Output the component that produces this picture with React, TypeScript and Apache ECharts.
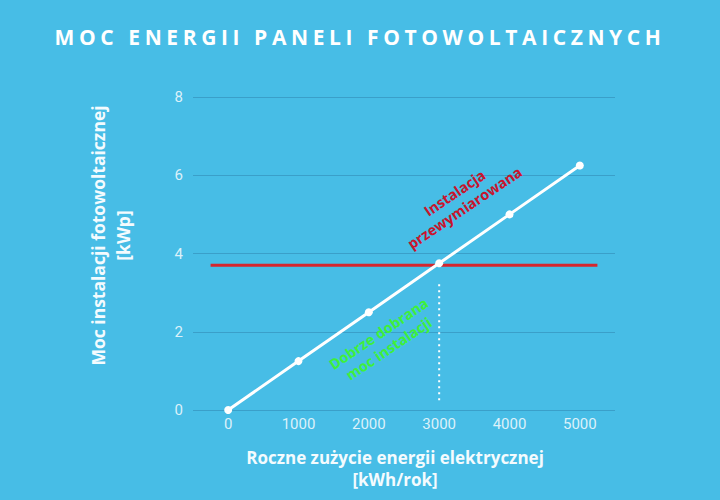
import React, { useEffect, useRef } from "react";
import * as echarts from "echarts";

const TITLE = "MOC ENERGII PANELI FOTOWOLTAICZNYCH";

// annual consumption [kWh/rok] vs installed power [kWp]
const consumption = [0, 1000, 2000, 3000, 4000, 5000];
const power = [0, 1.25, 2.5, 3.75, 5, 6.25];
const xTickValues = [0, 1000, 2000, 3000, 4000, 5000];

// red "oversized" threshold and the dotted marker at 3000 kWh
const limitValue = 3.7;
const limitRange = [-250, 5250];
const markerX = 3000;
const markerRange = [0.25, 3.25];

// annotation anchors in data coordinates
const redNote = { x: 3290, y: 5.36, text: "Instalacja\nprzewymiarowana" };
const greenNote = { x: 2210, y: 1.76, text: "Dobrze dobrana\nmoc instalacji" };

export default function App() {
  const chartRef = useRef<HTMLDivElement>(null);

  useEffect(() => {
    if (!chartRef.current) return;
    const chart = echarts.init(chartRef.current, null, { renderer: "svg" });

    chart.setOption({
      animation: false,
      backgroundColor: "#47bde6",
      title: {
        text: TITLE,
        left: "center",
        top: 21,
        textStyle: { color: "#ffffff", fontSize: 21, fontWeight: "bold", fontFamily: "Open Sans" }
      },
      grid: { left: 193, right: 105, top: 97, bottom: 90, outerBoundsMode: "none" },
      xAxis: {
        type: "value",
        min: -500,
        max: 5500,
        name: "Roczne zużycie energii elektrycznej\n[kWh/rok]",
        nameLocation: "middle",
        nameGap: 36,
        nameTextStyle: {
          color: "#f4fbfe",
          fontSize: 17,
          fontWeight: "bold",
          fontFamily: "Open Sans",
          lineHeight: 22,
          padding: [0, 18, 0, 0]
        },
        axisLine: { show: false },
        axisTick: { show: false },
        splitLine: { show: false },
        axisLabel: {
          customValues: xTickValues,
          formatter: (v: number) => String(v),
          color: "#dcf1fa",
          fontSize: 15,
          fontFamily: "Roboto",
          margin: 6
        }
      },
      yAxis: {
        type: "value",
        min: 0,
        max: 8,
        interval: 2,
        name: "Moc instalacji fotowoltaicznej\n[kWp]",
        nameLocation: "middle",
        nameGap: 58,
        nameTextStyle: {
          color: "#f4fbfe",
          fontSize: 17.5,
          fontWeight: "bold",
          fontFamily: "Open Sans",
          lineHeight: 25,
          padding: [0, 0, 0, 36]
        },
        axisLine: { show: false },
        axisTick: { show: false },
        splitLine: { lineStyle: { color: "#3a9fc9", width: 1 } },
        axisLabel: { color: "#dcf1fa", fontSize: 15, fontFamily: "Roboto", margin: 10 }
      },
      series: [
        {
          name: "limit",
          type: "line",
          data: limitRange.map((x) => [x, limitValue]),
          showSymbol: false,
          lineStyle: { color: "#d5262e", width: 3 },
          silent: true
        },
        {
          name: "marker",
          type: "line",
          data: markerRange.map((y) => [markerX, y]),
          showSymbol: false,
          lineStyle: { color: "#ffffff", width: 2, type: [2, 4] },
          silent: true
        },
        {
          name: "moc",
          type: "line",
          data: consumption.map((x, i) => [x, power[i]]),
          symbol: "circle",
          symbolSize: 8,
          itemStyle: { color: "#ffffff" },
          lineStyle: { color: "#ffffff", width: 3 },
          z: 3
        }
      ]
    });

    // notes rotated along the line, positioned via the axes
    const angle = (34 * Math.PI) / 180;
    const note = (n: typeof redNote, color: string) => {
      const [px, py] = chart.convertToPixel({ gridIndex: 0 }, [n.x, n.y]);
      return {
        type: "text",
        x: px,
        y: py,
        rotation: angle,
        style: {
          text: n.text,
          fill: color,
          fontSize: 14.5,
          fontWeight: "bold",
          fontFamily: "Open Sans",
          lineHeight: 18,
          align: "center",
          verticalAlign: "middle"
        }
      };
    };
    chart.setOption({ graphic: [note(redNote, "#c8142c"), note(greenNote, "#3ef03a")] });

    // echarts has no letter spacing, so add it on the svg title
    chartRef.current.querySelectorAll("text").forEach((t) => {
      if (t.textContent === TITLE) t.setAttribute("letter-spacing", "4.6");
    });

    return () => chart.dispose();
  }, []);

  return <div ref={chartRef} style={{ position: "fixed", left: 0, top: 0, width: 720, height: 500 }}></div>;
}
